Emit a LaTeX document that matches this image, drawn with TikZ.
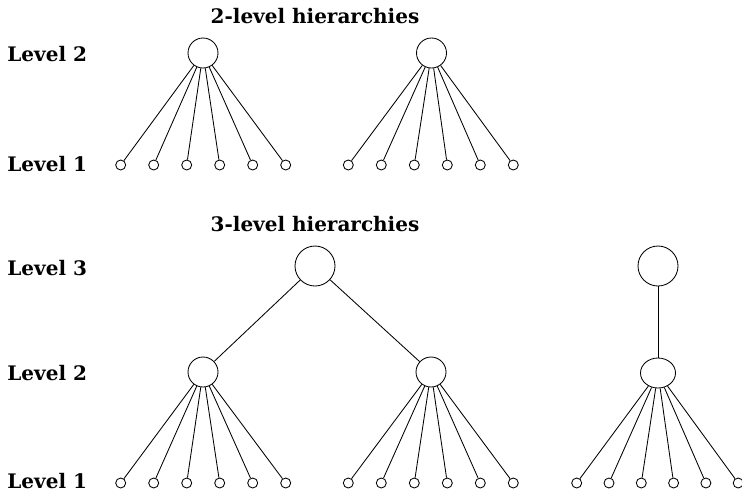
\documentclass[tikz,border=0pt]{standalone}
\usepackage{fontspec}
\setmainfont{DejaVu Serif}
\usetikzlibrary{shapes.geometric}
\tikzset{
	leaf/.style={draw, circle, inner sep=0pt, minimum size=10pt},
	boss/.style={draw, circle, inner sep=0pt, minimum size=30pt},
	chief/.style={draw, circle, inner sep=0pt, minimum size=40pt},
	oval/.style={draw, ellipse, inner sep=0pt, minimum width=35pt, minimum height=30pt},
	lvl/.style={anchor=west, inner sep=0pt, font=\fontsize{20}{24}\selectfont\bfseries},
	ttl/.style={inner sep=0pt, font=\fontsize{20}{24}\selectfont\bfseries}
}
\begin{document}
\begin{tikzpicture}[x=1pt,y=-1pt,line width=.85pt]
	\useasboundingbox (0,0) rectangle (742,496);
	% headings and level labels
	\node[ttl] (head2) at (315,16) {2-level hierarchies};
	\node[ttl] (head3) at (315,224) {3-level hierarchies};
	\node[lvl] (labA2) at (7,54) {Level 2};
	\node[lvl] (labA1) at (7,164) {Level 1};
	\node[lvl] (labB3) at (7,268) {Level 3};
	\node[lvl] (labB2) at (7,373) {Level 2};
	\node[lvl] (labB1) at (7,481) {Level 1};
	% 2-level trees
	\foreach \tr/\cx/\lx in {a/203/120.7, b/431.5/348.3} {
		\node[boss] (r\tr) at (\cx,53) {};
		\foreach \i in {1,...,6} {
			\node[leaf] (r\tr\i) at ({\lx+33*(\i-1)},165) {};
			\draw (r\tr) -- (r\tr\i);
		}
	}
	% 3-level trees
	\node[chief] (c1) at (315,266) {};
	\node[boss] (m1) at (203,372) {};
	\node[boss] (m2) at (431,372) {};
	\draw (c1) -- (m1);
	\draw (c1) -- (m2);
	\node[chief] (c2) at (658,266) {};
	\node[oval] (m3) at (658,373) {};
	\draw (c2) -- (m3);
	\foreach \tr/\lx/\dx in {1/120.7/33, 2/348.3/33, 3/576.7/32.3} {
		\foreach \i in {1,...,6} {
			\node[leaf] (m\tr\i) at ({\lx+\dx*(\i-1)},483) {};
			\draw (m\tr) -- (m\tr\i);
		}
	}
\end{tikzpicture}
\end{document}
